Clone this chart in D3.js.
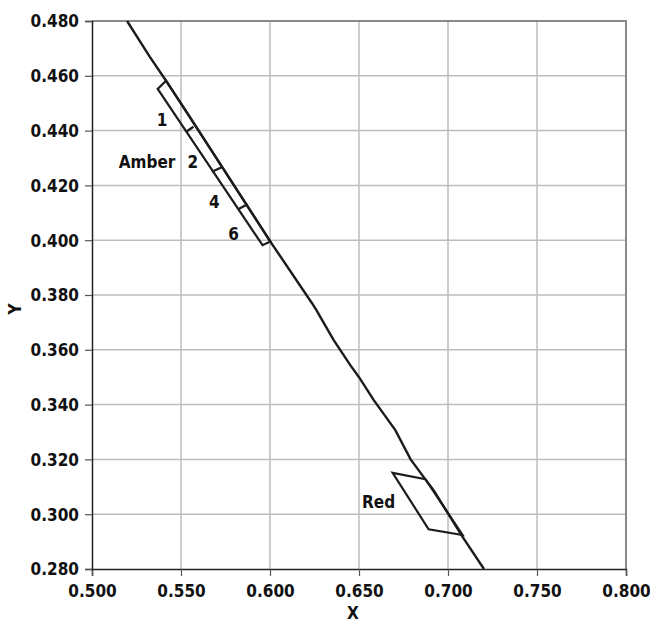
<!DOCTYPE html>
<html>
<head>
<meta charset="utf-8">
<script src="https://cdn.jsdelivr.net/npm/d3@7"></script>
<style>
  body { margin: 0; background: #fff; }
  text { font-family: "Liberation Sans Narrow", "DejaVu Sans Condensed", sans-serif; font-weight: bold; fill: #111; }
</style>
</head>
<body>
<div id="chart"></div>
<script>
// tick values
var xTicks = [0.500, 0.550, 0.600, 0.650, 0.700, 0.750, 0.800];
var yTicks = [0.280, 0.300, 0.320, 0.340, 0.360, 0.380, 0.400, 0.420, 0.440, 0.460, 0.480];

var lineX = [0.5197, 0.5324, 0.5416, 0.5537, 0.6002, 0.6236, 0.6265, 0.6292, 0.6357, 0.6451, 0.6500, 0.6582, 0.6704, 0.6790, 0.6873, 0.6919, 0.7079, 0.7202];
var lineY = [0.4800, 0.4670, 0.4582, 0.4463, 0.3995, 0.3770, 0.3740, 0.3709, 0.3636, 0.3544, 0.3500, 0.3417, 0.3307, 0.3200, 0.3127, 0.3088, 0.2920, 0.2800];

// amber region
var amberX = [0.5416, 0.5369, 0.5958, 0.6002];
var amberY = [0.4582, 0.4552, 0.3982, 0.3995];
// separators inside amber region
var sepX1 = [0.5527, 0.5674, 0.5824];
var sepY1 = [0.4395, 0.4250, 0.4114];
var sepX2 = [0.5570, 0.5729, 0.5874];
var sepY2 = [0.4414, 0.4266, 0.4131];
var sepLabels = ["1", "2", "4", "6"];
var sepLabelX = [0.5394, 0.5567, 0.5687, 0.5795];
var sepLabelY = [0.4439, 0.4286, 0.4140, 0.4021];

// red region
var redX = [0.6689, 0.6873, 0.7082, 0.6891];
var redY = [0.3151, 0.3128, 0.2924, 0.2945];

var margin = { top: 21, right: 24, bottom: 56, left: 92 },
    width = 650 - margin.left - margin.right,
    height = 625 - margin.top - margin.bottom;

var x = d3.scaleLinear().domain([0.5, 0.8]).range([0, width]);
var y = d3.scaleLinear().domain([0.28, 0.48]).range([height, 0]);

var svg = d3.select("#chart").append("svg")
    .attr("width", 650)
    .attr("height", 625)
  .append("g")
    .attr("transform", "translate(" + margin.left + "," + margin.top + ")");

// grid
svg.selectAll(".vgrid").data(xTicks.slice(1, -1)).enter().append("line")
    .attr("x1", function(d) { return x(d); }).attr("x2", function(d) { return x(d); })
    .attr("y1", 0).attr("y2", height)
    .style("stroke", "#bdbdbd").style("stroke-width", 1.5);
svg.selectAll(".hgrid").data(yTicks.slice(1, -1)).enter().append("line")
    .attr("y1", function(d) { return y(d); }).attr("y2", function(d) { return y(d); })
    .attr("x1", 0).attr("x2", width)
    .style("stroke", "#bdbdbd").style("stroke-width", 1.5);

// frame top and right
svg.append("path")
    .attr("d", "M0," + y(0.48) + "H" + x(0.8) + "V" + height)
    .style("fill", "none").style("stroke", "#8a8a8a").style("stroke-width", 2);

// axes
var xAxis = d3.axisBottom(x).tickValues(xTicks).tickFormat(d3.format(".3f")).tickSizeOuter(0).tickSize(7).tickPadding(9);
var yAxis = d3.axisLeft(y).tickValues(yTicks).tickFormat(d3.format(".3f")).tickSizeOuter(0).tickSize(7).tickPadding(6);

var gx = svg.append("g").attr("transform", "translate(0," + height + ")").call(xAxis);
var gy = svg.append("g").call(yAxis);
[gx, gy].forEach(function(g) {
  g.select(".domain").style("stroke", "#222").style("stroke-width", 1.5);
  g.selectAll(".tick line").style("stroke", "#555").style("stroke-width", 1.2);
  g.selectAll(".tick text")
    .style("font-family", '"Liberation Sans Narrow", "DejaVu Sans Condensed", sans-serif')
    .style("font-weight", "bold").style("font-size", "17px").style("fill", "#111");
});
gy.selectAll(".tick text").attr("dy", "0.35em");

// axis titles
svg.append("text")
    .attr("x", width / 2 - 6).attr("y", height + 50)
    .style("text-anchor", "middle").style("font-size", "17px")
    .text("X");
svg.append("text")
    .attr("transform", "translate(" + (-71) + "," + (height / 2 + 14) + ") rotate(-90)")
    .style("text-anchor", "middle").style("font-size", "17px")
    .text("Y");

var stroke = "#1c1c1c";
var lineGen = d3.line().x(function(d) { return x(d[0]); }).y(function(d) { return y(d[1]); });

// amber region
svg.append("path")
    .attr("d", lineGen(d3.zip(amberX, amberY)) + "Z")
    .style("fill", "none").style("stroke", stroke).style("stroke-width", 2.2).style("stroke-linejoin", "miter");
svg.selectAll(".sep").data(sepX1).enter().append("line")
    .attr("x1", function(d, i) { return x(sepX1[i]); })
    .attr("y1", function(d, i) { return y(sepY1[i]); })
    .attr("x2", function(d, i) { return x(sepX2[i]); })
    .attr("y2", function(d, i) { return y(sepY2[i]); })
    .style("stroke", stroke).style("stroke-width", 2.2);

// red region
svg.append("path")
    .attr("d", lineGen(d3.zip(redX, redY)) + "Z")
    .style("fill", "none").style("stroke", stroke).style("stroke-width", 2.2);

// main line
svg.append("path")
    .attr("d", lineGen(d3.zip(lineX, lineY)))
    .style("fill", "none").style("stroke", stroke).style("stroke-width", 2.4);

// labels
svg.selectAll(".seplabel").data(sepLabels).enter().append("text")
    .attr("x", function(d, i) { return x(sepLabelX[i]); })
    .attr("y", function(d, i) { return y(sepLabelY[i]); })
    .attr("dy", "0.35em")
    .style("text-anchor", "middle").style("font-size", "17px")
    .text(function(d) { return d; });
svg.append("text")
    .attr("x", x(0.5309)).attr("y", y(0.4286)).attr("dy", "0.35em")
    .style("text-anchor", "middle").style("font-size", "17px")
    .text("Amber");
svg.append("text")
    .attr("x", x(0.6610)).attr("y", y(0.3046)).attr("dy", "0.35em")
    .style("text-anchor", "middle").style("font-size", "17px")
    .text("Red");
</script>
</body>
</html>
